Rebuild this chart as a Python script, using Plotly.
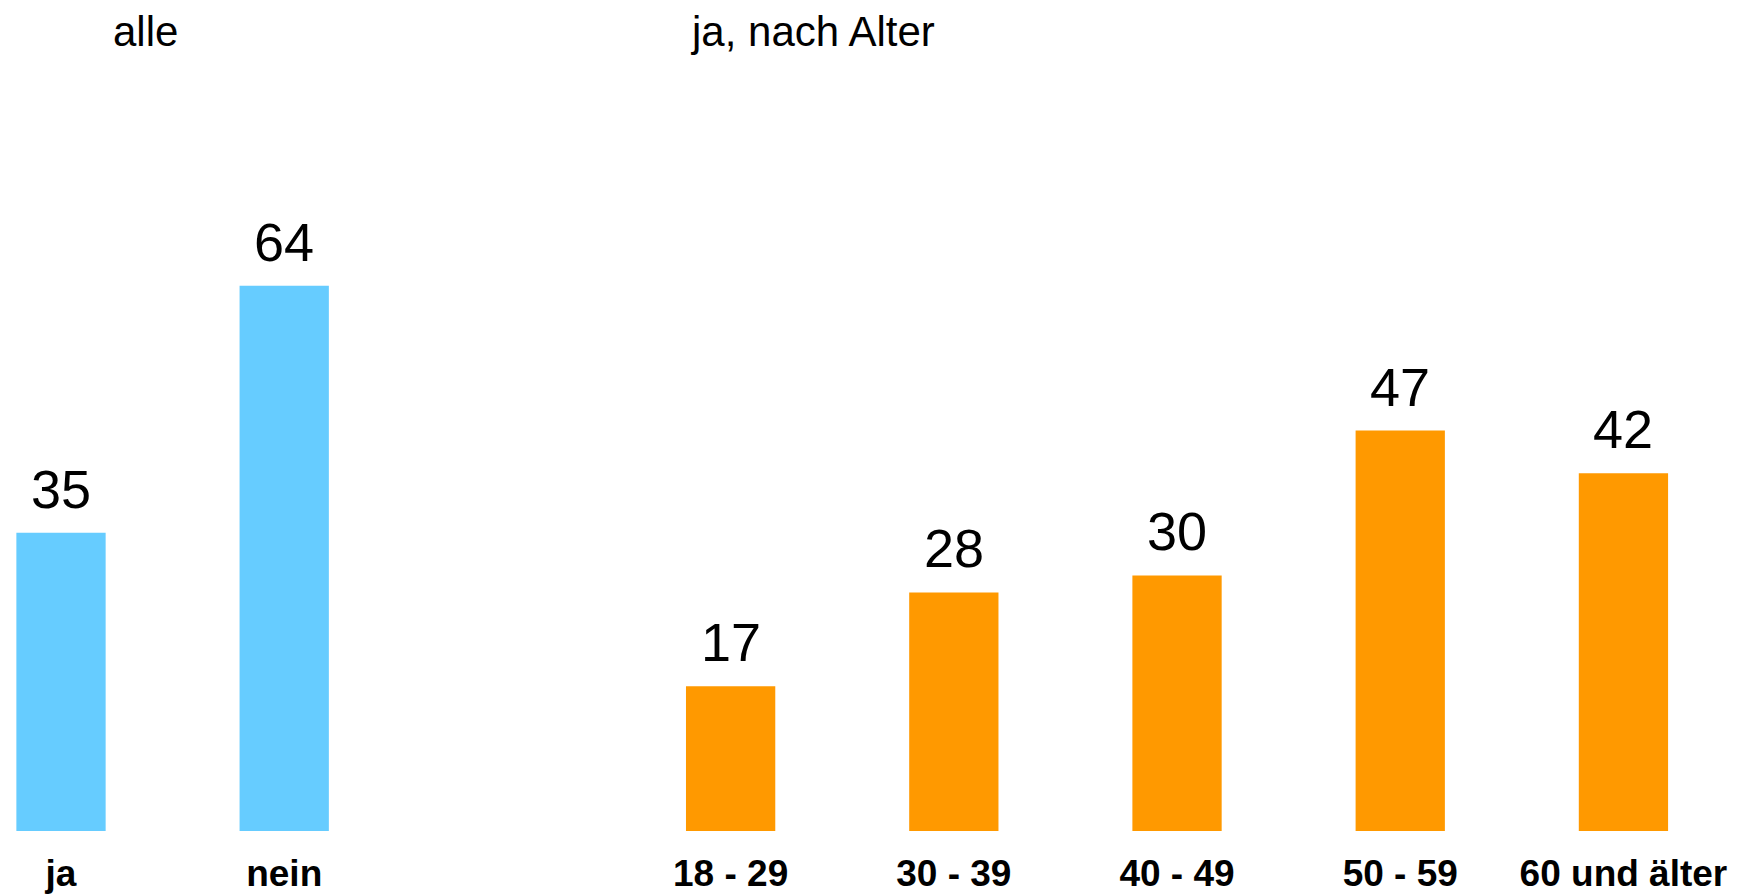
import plotly.graph_objects as go

# Data
all_categories = ["ja", "nein"]
all_values = [35, 64]
age_categories = ["18 - 29", "30 - 39", "40 - 49", "50 - 59", "60 und älter"]
age_values = [17, 28, 30, 47, 42]
title_all = "alle"
title_age = "ja, nach Alter"

category_order = all_categories + [" "] + age_categories

BLUE = "#66CCFF"
ORANGE = "#FF9900"
FONT = "Liberation Sans, Arial, Helvetica, sans-serif"

fig = go.Figure()
fig.add_trace(go.Bar(x=all_categories, y=all_values, marker_color=BLUE,
                     marker_line_width=0, width=0.40, hoverinfo="x+y"))
fig.add_trace(go.Bar(x=age_categories, y=age_values, marker_color=ORANGE,
                     marker_line_width=0, width=0.40, hoverinfo="x+y"))

annotations = []
for cats, vals in ((all_categories, all_values), (age_categories, age_values)):
    for c, v in zip(cats, vals):
        annotations.append(dict(x=c, y=v, xref="x", yref="y", text=str(v),
                                showarrow=False, yanchor="bottom", yshift=12,
                                font=dict(family=FONT, size=54, color="#000000")))

annotations.append(dict(x=137 / 1742, y=1, xref="paper", yref="paper", text=title_all,
                        showarrow=False, xanchor="center", yanchor="top", yshift=2,
                        font=dict(family=FONT, size=42, color="#000000")))
annotations.append(dict(x=680 / 1742, y=1, xref="paper", yref="paper", text=title_age,
                        showarrow=False, xanchor="left", yanchor="top", yshift=2,
                        font=dict(family=FONT, size=42, color="#000000")))

fig.update_layout(
    width=1742, height=895,
    margin=dict(l=0, r=0, t=0, b=72),
    paper_bgcolor="white", plot_bgcolor="white",
    showlegend=False,
    bargap=0.6,
    annotations=annotations,
    font=dict(family=FONT, color="#000000"),
)
fig.update_xaxes(type="category", categoryorder="array", categoryarray=category_order,
                 range=[-0.2375, 7.567], showgrid=False, showline=False, zeroline=False,
                 ticks="outside", ticklen=10, tickcolor="rgba(0,0,0,0)",
                 tickfont=dict(family=FONT, size=37, color="#000000", weight="bold"))
fig.update_yaxes(range=[0, 96.6], visible=False, showgrid=False, zeroline=False)

fig.write_html("out.html")
